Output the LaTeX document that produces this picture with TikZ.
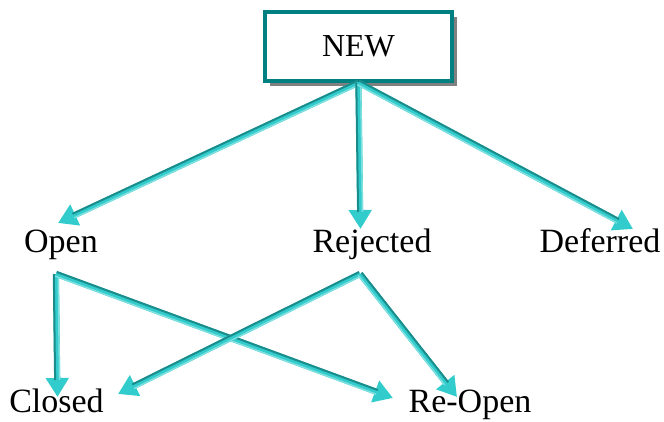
\documentclass[tikz,border=0pt]{standalone}
\usepackage{fontspec}
\setmainfont{Liberation Serif}
\usetikzlibrary{arrows.meta,shadows,calc}
\definecolor{boxteal}{HTML}{008080}
\definecolor{flowcyan}{HTML}{33CCCC}
\definecolor{flowdark}{HTML}{1A8C8C}
\definecolor{flowlight}{HTML}{80E0E0}
\definecolor{shadowgray}{HTML}{808080}
\begin{document}
\begin{tikzpicture}[x=1pt,y=-1pt,
    startbox/.style={rectangle, draw=boxteal, line width=3.5pt, fill=white,
                     minimum width=187pt, minimum height=69pt,
                     font=\fontsize{32}{38}\selectfont,
                     drop shadow={shadow xshift=5pt, shadow yshift=-5pt,
                                  fill=shadowgray, opacity=1}},
    state/.style={inner sep=0pt, anchor=base, font=\fontsize{34}{40}\selectfont},
    flowbody/.style={draw=flowcyan, line width=6pt,
                     -{Triangle[length=19pt,width=22pt]}},
    flowedge/.style={draw=flowdark, line width=2pt, shorten >=17pt},
    flowshine/.style={draw=flowlight, line width=1.4pt, shorten >=17pt},
]
\useasboundingbox (0,0) rectangle (664,422);

\node[startbox] (new) at (358.5,46.5) {NEW};

\node[state] (open) at (61,253) {Open};
\node[state] (rejected) at (372,253) {Rejected};
\node[state] (deferred) at (600,252) {Deferred};
\node[state] (closed) at (56.5,412) {Closed};
\node[state] (reopen) at (470,412) {Re-Open};

% arrow ends
\coordinate (openIn) at (58,223);
\coordinate (rejIn) at (360.5,229);
\coordinate (defIn) at (633,229);
\coordinate (openOut) at (56,274);
\coordinate (rejOut) at (360,274);
\coordinate (closedIn) at (57.5,397);
\coordinate (closedIn2) at (118,394);
\coordinate (reopenIn) at (393,398);
\coordinate (reopenIn2) at (457,397);

% dark side up/left, light side down/right
\foreach \a/\b/\s/\t in {new.south/openIn/-90/90, new.south/rejIn/-90/90,
                         new.south/defIn/90/-90,
                         openOut/closedIn/-90/90, openOut/reopenIn/90/-90,
                         rejOut/closedIn2/-90/90, rejOut/reopenIn2/90/-90} {
  \draw[flowbody] (\a) -- (\b);
  \draw[flowedge] ($(\a)!2.2pt!\s:(\b)$) -- ($(\b)!2.2pt!\t:(\a)$);
  \draw[flowshine] ($(\a)!2.2pt!\t:(\b)$) -- ($(\b)!2.2pt!\s:(\a)$);
}
\end{tikzpicture}
\end{document}
